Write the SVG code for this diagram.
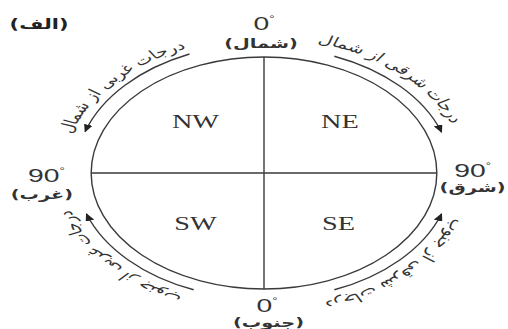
<svg xmlns="http://www.w3.org/2000/svg" width="508" height="329" viewBox="0 0 508 329">
<style>
.ln{fill:none;stroke:#3a3a3a;stroke-width:1.4;vector-effect:non-scaling-stroke}
.q{font-family:"Liberation Serif","Times New Roman",serif;font-size:19px;fill:#333;text-anchor:middle}
.deg{font-family:"Liberation Sans",Arial,sans-serif;font-size:19px;fill:#333;text-anchor:middle}
.ar{font-family:"DejaVu Sans","Noto Sans",sans-serif;font-size:13px;font-weight:bold;fill:#333;text-anchor:middle}
.arc{font-family:"DejaVu Sans","Noto Sans",sans-serif;font-size:13px;fill:#333;text-anchor:middle}
</style>
<defs>
<marker id="ah" markerUnits="userSpaceOnUse" markerWidth="8" markerHeight="6" refX="7" refY="3" orient="auto">
<path d="M0,0 L8,3 L0,6 Z" fill="#222"/>
</marker>
<path id="pTL" d="M -131.5 30.4 A 135 135 0 0 1 16.5 -134"/>
<path id="pTR" d="M -30.4 -131.5 A 135 135 0 0 1 134 16.5"/>
<path id="pBR" d="M 133.3 -21.1 A 135 135 0 0 1 -25.8 132.5"/>
<path id="pBL" d="M 14.1 134.3 A 135 135 0 0 1 -131 -32.7"/>
</defs>
<rect width="508" height="329" fill="#fff"/>
<g transform="translate(264,173) scale(1.49,1)">
<g id="compass">
<circle class="ln" cx="0" cy="0" r="116"/>
<line class="ln" x1="-116" y1="0" x2="116" y2="0"/>
<line class="ln" x1="0" y1="-116" x2="0" y2="116"/>
</g>
<g id="connectors">
<path class="ln" marker-end="url(#ah)" d="M -50 -119 A 127 127 0 0 0 -120 -41.5"/>
<path class="ln" marker-end="url(#ah)" d="M 47.2 -116.8 A 126 126 0 0 1 119.1 -41"/>
<path class="ln" marker-end="url(#ah)" d="M -47.2 116.8 A 126 126 0 0 1 -119.1 41"/>
<path class="ln" marker-end="url(#ah)" d="M 47.2 116.8 A 126 126 0 0 0 119.1 41"/>
</g>
<g id="quadrants">
<text class="q" x="-46" y="-45">NW</text>
<text class="q" x="51" y="-45">NE</text>
<text class="q" x="-46" y="57">SW</text>
<text class="q" x="50" y="57">SE</text>
</g>
<g id="north">
<text class="deg" x="0" y="-143">0<tspan font-size="9" dy="-8">°</tspan></text>
<text class="ar" x="-2" y="-125">(شمال)</text>
</g>
<g id="south">
<text class="deg" x="2" y="139">0<tspan font-size="9" dy="-8">°</tspan></text>
<text class="ar" x="3" y="154">(جنوب)</text>
</g>
<g id="west">
<text class="deg" x="-146" y="9">90<tspan font-size="9" dy="-8">°</tspan></text>
<text class="ar" x="-149" y="26">(غرب)</text>
</g>
<g id="east">
<text class="deg" x="140" y="4">90<tspan font-size="9" dy="-8">°</tspan></text>
<text class="ar" x="140" y="19">(شرق)</text>
</g>
<g id="arc-labels">
<text class="arc"><textPath href="#pTL" startOffset="50%">درجات غربی از شمال</textPath></text>
<text class="arc"><textPath href="#pTR" startOffset="50%">درجات شرقی از شمال</textPath></text>
<text class="arc"><textPath href="#pBR" startOffset="50%">درجات شرقی از جنوب</textPath></text>
<text class="arc"><textPath href="#pBL" startOffset="50%">درجات غربی از جنوب</textPath></text>
</g>
<g id="title">
<text x="-151" y="-144" style="font-family:'DejaVu Sans',sans-serif;font-size:14px;font-weight:bold;fill:#222;text-anchor:middle">(الف)</text>
</g>
</g>
</svg>
